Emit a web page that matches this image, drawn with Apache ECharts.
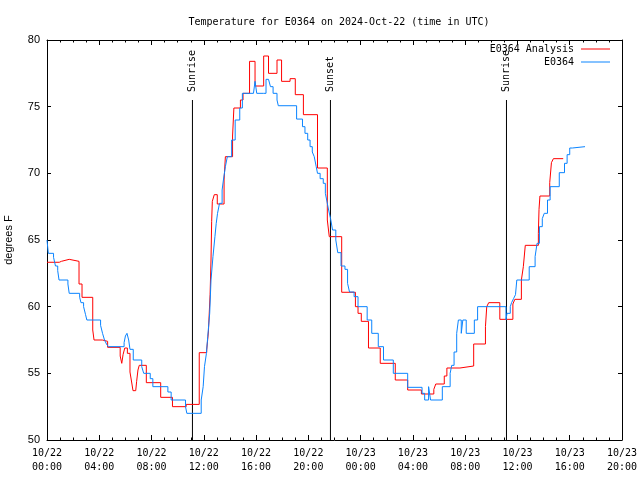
<!DOCTYPE html>
<html>
<head>
<meta charset="utf-8">
<script src="https://cdn.jsdelivr.net/npm/echarts@6/dist/echarts.min.js"></script>
<style>html,body{margin:0;padding:0;background:#fff}#c{width:640px;height:480px}</style>
</head>
<body>
<div id="c"></div>
<script>
// hours since 2024-10-22 00:00 UTC
const xTickLabels = ["10/22\n00:00","10/22\n04:00","10/22\n08:00","10/22\n12:00","10/22\n16:00","10/22\n20:00",
  "10/23\n00:00","10/23\n04:00","10/23\n08:00","10/23\n12:00","10/23\n16:00","10/23\n20:00"];
const yTicks = [50,55,60,65,70,75,80];

const analysisHours = [0,0.94,1.1,1.7,2.45,2.68,3.5,3.6,4.23,4.64,5.6,5.72,5.82,5.95,6.05,6.15,6.35,6.5,6.58,6.79,6.86,6.96,7.06,7.6,8.7,9.6,10.65,11.65,12.22,12.35,12.48,12.55,12.6,12.65,12.8,13.03,13.55,13.65,14.2,14.3,14.8,15.0,15.5,15.92,16.58,16.95,17.6,17.95,18.6,19.0,19.62,20.7,21.45,21.6,22.55,23.6,23.8,24.05,24.6,25.5,26.65,27.6,28.65,29.6,29.75,30.4,30.6,31.6,32.65,33.55,33.65,33.8,34.65,35.65,35.8,36.3,36.45,36.6,37.6,37.65,37.72,38.47,38.6,38.75,39.5];
const analysisTemps = [63.33,63.4,63.55,63.4,61.7,60.7,58.25,57.5,57.4,56.95,56.3,55.75,56.4,56.9,56.9,56.5,55.1,54.2,53.7,53.7,54.4,55.25,55.6,54.3,53.2,52.5,52.67,56.55,56.75,58.1,60.9,63.5,66.4,67.9,68.4,67.7,69.5,71.25,72.8,74.9,75.5,76.0,78.4,76.55,78.8,77.5,78.5,76.9,77.1,75.9,74.4,70.4,66.5,65.25,61.08,60.0,59.5,58.9,56.9,55.75,54.5,53.75,53.45,53.8,54.2,54.8,55.4,55.55,57.2,58.5,60.0,60.3,59.05,60.2,60.55,62.0,63.0,64.6,65.5,67.3,68.3,69.3,70.8,71.1,71.1];

const obsHours = [0,0.1,0.5,0.65,0.82,0.92,1.6,1.7,2.5,2.6,2.8,2.95,3.05,4.1,4.25,4.4,4.55,4.7,5.9,6.0,6.12,6.25,6.35,6.6,7.25,7.4,7.9,8.1,9.25,9.5,10.6,10.7,11.8,11.95,12.05,12.2,12.3,12.45,12.55,12.7,12.85,12.95,13.05,13.2,13.4,13.5,13.65,13.8,14.13,14.4,14.75,14.95,15.8,15.92,16.05,16.55,16.76,16.95,17.1,17.3,17.6,17.7,19.1,19.55,19.74,19.95,20.13,20.3,20.45,20.6,20.7,20.9,21.14,21.3,21.4,21.55,21.7,21.85,22.1,22.25,22.5,22.8,23.0,23.15,23.5,23.8,24.5,24.85,25.35,25.75,26.5,27.6,28.7,28.9,29.2,29.35,30.25,30.85,30.97,31.15,31.35,31.48,31.7,31.82,32.08,32.7,32.95,35.12,35.2,35.45,35.55,35.7,35.85,35.95,36.9,37.35,37.5,37.68,37.9,38.05,38.3,38.5,39.2,39.6,39.8,40.0,40.2,41.17];
const obsTemps = [65.0,64.0,63.7,63.05,62.7,62.0,61.7,61.0,60.7,60.3,60.0,59.4,59.0,58.6,58.0,57.5,57.2,57.0,57.3,57.8,58.0,57.5,56.8,56.0,55.5,55.0,54.6,54.0,53.6,53.0,52.5,52.0,53.0,54.0,55.5,56.5,57.75,59.5,62.0,63.75,65.25,66.25,67.0,67.75,68.75,69.5,70.5,71.25,72.5,74.0,74.9,76.0,76.0,76.9,76.0,76.0,77.05,76.9,76.5,76.0,75.5,75.07,74.07,73.5,73.0,72.5,72.0,71.6,71.25,70.5,70.0,69.6,69.25,68.5,68.0,67.25,66.6,65.75,65.0,64.05,63.05,62.8,61.75,61.1,60.75,60.0,59.0,58.0,57.0,56.0,55.0,53.95,53.5,53.0,54.0,53.0,54.0,55.0,55.6,56.6,58.0,59.0,58.0,59.0,58.0,59.0,60.0,59.0,59.5,60.0,60.3,60.6,60.9,62.0,63.0,63.75,64.75,66.0,66.6,67.0,68.0,69.0,70.05,70.75,71.4,71.9,72.0,72.0];

const eventHours = [11.13, 21.69, 35.16];
const eventNames = ["Sunrise", "Sunset", "Sunrise"];
const eventTop = 75.5;

const zip = (a, b) => a.map((v, i) => [v, b[i]]);
const mono = "DejaVu Sans Mono";

const series = [
  { name: "E0364 Analysis", type: "line", step: "end", data: zip(analysisHours, analysisTemps),
    showSymbol: false, symbol: "none", lineStyle: { color: "#ff0000", width: 1 }, itemStyle: { color: "#ff0000" }, z: 3, animation: false },
  { name: "E0364", type: "line", step: "end", data: zip(obsHours, obsTemps),
    showSymbol: false, symbol: "none", lineStyle: { color: "#0a84ff", width: 1 }, itemStyle: { color: "#0a84ff" }, z: 4, animation: false }
];
eventHours.forEach((h, i) => {
  series.push({
    name: "ev" + i, type: "line", data: [[h, 50], [h, eventTop]], symbol: "none", showSymbol: false,
    lineStyle: { color: "#000", width: 1 }, z: 2, animation: false, silent: true,
    markPoint: {
      symbol: "circle", symbolSize: 0, silent: true,
      data: [{ coord: [h, eventTop], value: eventNames[i] }],
      label: { show: true, formatter: eventNames[i], rotate: 90, position: "top", distance: 8,
        align: "left", verticalAlign: "middle", fontFamily: mono, fontSize: 10, color: "#000" }
    }
  });
});

const chart = echarts.init(document.getElementById("c"), null, { renderer: "canvas" });
chart.setOption({
  animation: false,
  backgroundColor: "#fff",
  title: { text: "Temperature for E0364 on 2024-Oct-22 (time in UTC)", left: 334, top: 12, textAlign: "center",
    textStyle: { fontFamily: mono, fontSize: 10, fontWeight: "normal", color: "#000" } },
  legend: { data: ["E0364 Analysis", "E0364"], orient: "vertical", right: 30, top: 44, align: "right", padding: 0,
    itemWidth: 29, itemHeight: 1, itemGap: 3, icon: "rect",
    textStyle: { fontFamily: mono, fontSize: 10, color: "#000", padding: [0, 2, 0, 0] } },
  grid: { left: 47, right: 18, top: 40, bottom: 40, containLabel: false, outerBoundsMode: "none" },
  xAxis: [
    { type: "value", min: 0, max: 44, interval: 4, position: "bottom",
      axisLine: { show: true, onZero: false, lineStyle: { color: "#000", width: 1 } },
      axisTick: { show: true, inside: true, length: 5, lineStyle: { color: "#000" } },
      minorTick: { show: true, splitNumber: 4, length: 2.5, lineStyle: { color: "#000" } },
      splitLine: { show: false },
      axisLabel: { margin: 6, fontFamily: mono, fontSize: 10, lineHeight: 14, color: "#000",
        formatter: v => xTickLabels[Math.round(v / 4)] } },
    { type: "value", min: 0, max: 44, interval: 4, position: "top",
      axisLine: { show: true, onZero: false, lineStyle: { color: "#000", width: 1 } },
      axisTick: { show: true, inside: true, length: 5, lineStyle: { color: "#000" } },
      minorTick: { show: true, splitNumber: 4, length: 2.5, lineStyle: { color: "#000" } },
      splitLine: { show: false }, axisLabel: { show: false } }
  ],
  yAxis: [
    { type: "value", min: 50, max: 80, interval: 5, position: "left", name: "degrees F",
      nameLocation: "middle", nameGap: 33, nameRotate: 90,
      nameTextStyle: { fontFamily: "Liberation Sans", fontSize: 11, color: "#000" },
      axisLine: { show: true, onZero: false, lineStyle: { color: "#000", width: 1 } },
      axisTick: { show: true, inside: true, length: 4, lineStyle: { color: "#000" } },
      splitLine: { show: false },
      axisLabel: { margin: 7, fontFamily: "Liberation Sans", fontSize: 11, color: "#000",
        formatter: v => (yTicks.indexOf(v) >= 0 ? String(v) : "") } },
    { type: "value", min: 50, max: 80, interval: 5, position: "right",
      axisLine: { show: true, onZero: false, lineStyle: { color: "#000", width: 1 } },
      axisTick: { show: true, inside: true, length: 4, lineStyle: { color: "#000" } },
      splitLine: { show: false }, axisLabel: { show: false } }
  ],
  series: series
});
</script>
</body>
</html>
